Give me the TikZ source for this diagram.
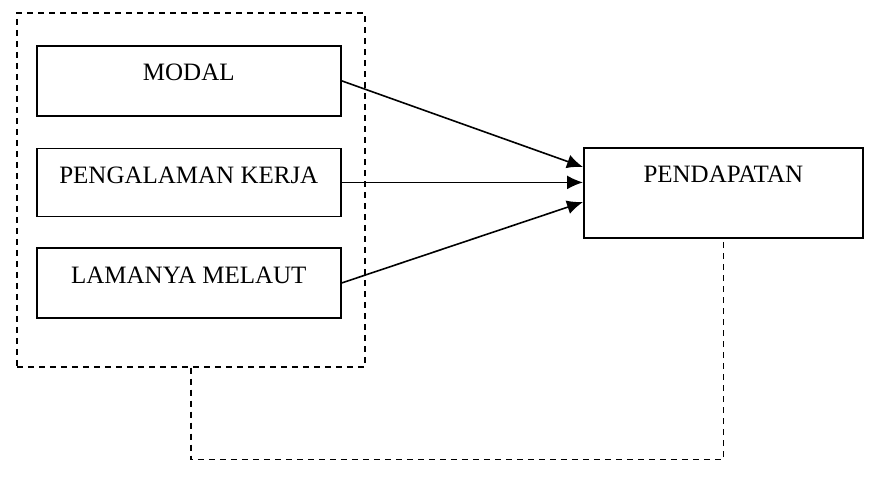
\documentclass[tikz,border=0pt]{standalone}
\usepackage{fontspec}
\setmainfont{Liberation Serif}
\usetikzlibrary{arrows.meta,positioning}
\begin{document}
\begin{tikzpicture}[x=0.5pt,y=-0.5pt]
\tikzstyle{kotak}=[draw,line width=0.8pt,inner sep=0pt,minimum width=152pt,text height=17.5pt,text depth=17.5pt,font=\fontsize{12.5}{14}\selectfont]
\tikzstyle{panah}=[line width=0.8pt,-{Latex[length=8pt,width=7pt]}]
\tikzstyle{putus}=[line width=0.8pt,dash pattern=on 3pt off 2.5pt]
\useasboundingbox (0,0) rectangle (878,489);
\node[putus,draw,minimum width=174pt,minimum height=177pt,anchor=north west] (grup) at (16,12) {};
\node[kotak,anchor=north west] (modal) at (36,45) {MODAL};
\node[kotak,below=15.5pt of modal,text depth=16.5pt] (kerja) {PENGALAMAN KERJA};
\node[kotak,below=15pt of kerja] (melaut) {LAMANYA MELAUT};
\node[kotak,anchor=north west,minimum width=139.5pt,text depth=27.5pt] (hasil) at (583,147) {PENDAPATAN};
\draw[panah] (modal.east) -- ([yshift=-10pt]hasil.north west);
\draw[panah] (kerja.east) -- (kerja.east -| hasil.west);
\draw[panah] (melaut.east) -- ([yshift=-27.5pt]hasil.north west);
\draw[putus] (grup.south) -- ++(0,92) -| (hasil.south);
\end{tikzpicture}
\end{document}
